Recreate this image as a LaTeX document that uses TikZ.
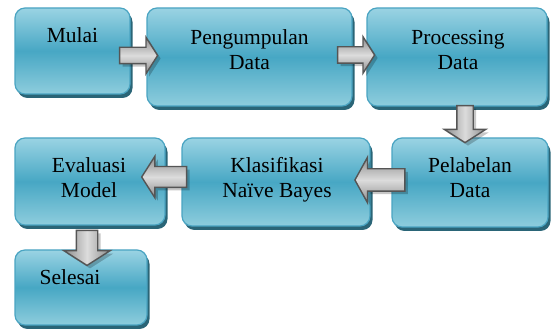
\documentclass[tikz,border=0pt]{standalone}
\usepackage{fontspec}
\setmainfont{Liberation Serif}
\usetikzlibrary{shapes.arrows,shadows,calc}
\definecolor{boxtop}{HTML}{9AD3E3}
\definecolor{boxmid}{HTML}{47A7C4}
\definecolor{boxbot}{HTML}{8ECDDD}
\definecolor{boxrim}{HTML}{4AA4C2}
\definecolor{boxshadow}{HTML}{2A6577}
\definecolor{arrlight}{HTML}{DCDCDC}
\definecolor{arrdark}{HTML}{8C8C8C}
\definecolor{arredge}{HTML}{555555}
\tikzset{
  flowbox/.style={rectangle, rounded corners=10pt, draw=boxrim, line width=1.2pt,
    top color=boxtop, bottom color=boxbot, middle color=boxmid,
    drop shadow={shadow xshift=2.5pt, shadow yshift=-4pt, fill=boxshadow, opacity=1},
    inner sep=0pt},
  lbl/.style={font=\fontsize{21.5}{25}\selectfont, align=center, anchor=base, inner sep=0pt},
  blockarrow/.style={single arrow, draw=arredge, line width=1.4pt, minimum width=0pt,
    single arrow tip angle=115,
    drop shadow={shadow xshift=3pt, shadow yshift=-3pt, fill=black, opacity=0.22}},
  harrow/.style={blockarrow, top color=arrdark, bottom color=arrdark, middle color=arrlight},
  varrow/.style={blockarrow, left color=arrdark, right color=arrdark, middle color=arrlight},
}
\begin{document}
\begin{tikzpicture}[x=1pt,y=-1pt]
\useasboundingbox (0,0) rectangle (552,331);
% boxes
\node[flowbox, minimum width=115pt, minimum height=86pt] (mulai) at (72.5,51) {};
\node[flowbox, minimum width=205pt, minimum height=98pt] (peng) at (249.5,57) {};
\node[flowbox, minimum width=180pt, minimum height=98pt] (proc) at (457,57) {};
\node[flowbox, minimum width=156pt, minimum height=89pt] (pel) at (470,182.5) {};
\node[flowbox, minimum width=188pt, minimum height=88pt] (klas) at (276,182) {};
\node[flowbox, minimum width=150pt, minimum height=87pt] (eval) at (90,181.5) {};
\node[flowbox, minimum width=132pt, minimum height=75pt] (sel) at (81,287.5) {};
% labels (base anchor = baseline of the last line)
\node[lbl] (tmulai) at ($(mulai.north)+(0,35)$) {Mulai};
\node[lbl] (tpeng) at ($(peng.north)+(0,62)$) {Pengumpulan\\Data};
\node[lbl] (tproc) at ($(proc.north)+(1,62)$) {Processing\\Data};
\node[lbl] (tpel) at ($(pel.north)+(0,60)$) {Pelabelan\\Data};
\node[lbl] (tklas) at ($(klas.north)+(1,60)$) {Klasifikasi\\Naïve Bayes};
\node[lbl] (teval) at ($(eval.north)+(-1,60)$) {Evaluasi\\Model};
\node[lbl] (tsel) at ($(sel.north)+(-11,35)$) {Selesai};
% arrows
\node[harrow, minimum height=38pt, inner sep=7.5pt, single arrow head extend=10pt]
  (a1) at ($(mulai.east)!0.5!(peng.west)+(-2.5,1.5)$) {};
\node[harrow, minimum height=37pt, inner sep=7.5pt, single arrow head extend=10pt]
  (a2) at ($(peng.east)!0.5!(proc.west)+(-6,-2)$) {};
\node[varrow, minimum height=37pt, inner sep=7.5pt, single arrow head extend=12.5pt,
  shape border rotate=270] (a3) at ($(proc.south)!0.5!(pel.north)+(1.5,-0.5)$) {};
\node[harrow, minimum height=50pt, inner sep=10.5pt, single arrow head extend=11.5pt,
  single arrow tip angle=122, shape border rotate=180] (a4) at ($(pel.west)!0.5!(klas.east)+(2,-2.25)$) {};
\node[harrow, minimum height=45pt, inner sep=9.75pt, single arrow head extend=10.25pt,
  shape border rotate=180] (a5) at ($(klas.west)!0.5!(eval.east)+(-6,-4.75)$) {};
\node[varrow, minimum height=35pt, inner sep=10pt, single arrow head extend=12.5pt,
  shape border rotate=270] (a6) at ($(eval.south)!0.5!(sel.north)+(1.5,7)$) {};
\end{tikzpicture}
\end{document}
